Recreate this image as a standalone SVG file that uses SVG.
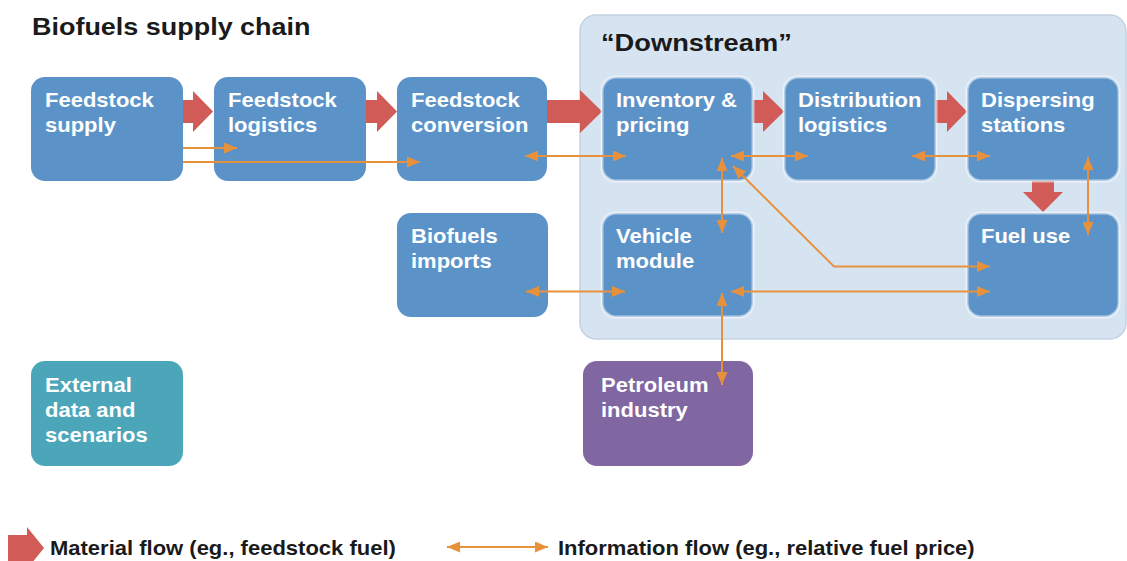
<svg xmlns="http://www.w3.org/2000/svg" width="1127" height="561" viewBox="0 0 1127 561">
<style>
  .box { fill: #5B93C8; }
  .inbox { fill: #5B93C8; stroke: #FFFFFF; stroke-opacity: 0.55; stroke-width: 3; }
  .lbl { font-family: "Liberation Sans", Arial, sans-serif; font-weight: bold; font-size: 20px; fill: #FFFFFF; }
  .dark { font-family: "Liberation Sans", Arial, sans-serif; font-weight: bold; fill: #1A1A1A; }
  .mat { fill: #D05B57; }
  .info { fill: none; stroke: #E8913D; stroke-width: 2; }
</style>
<defs>
  <marker id="ah" viewBox="0 0 13 11" markerWidth="13" markerHeight="11" refX="13" refY="5.5" orient="auto-start-reverse" markerUnits="userSpaceOnUse">
    <path d="M0,0 L13,5.5 L0,11 z" fill="#E8913D"/>
  </marker>
</defs>
<rect width="1127" height="561" fill="#FFFFFF"/>

<text class="dark" font-size="24.5" transform="translate(32 35) scale(1.1 1)">Biofuels supply chain</text>

<g id="downstream">
  <rect x="580" y="15" width="546" height="324" rx="16" fill="#D6E3F0" stroke="#C3D2E2" stroke-width="1.5"/>
  <text class="dark" font-size="23.5" transform="translate(601 51) scale(1.16 1)">“Downstream”</text>
</g>

<g id="material-flows">
  <path class="mat" d="M183,100 H193 V91 L213,111.5 L193,132 V123 H183 z"/>
  <path class="mat" d="M366,100 H377 V91 L397,111.5 L377,132 V123 H366 z"/>
  <path class="mat" d="M547,100 H580 V90 L602,111.5 L580,133 V123 H547 z"/>
  <path class="mat" d="M753,100 H763 V91 L784,111.5 L763,132 V123 H753 z"/>
  <path class="mat" d="M936,100 H947 V91 L967,111.5 L947,132 V123 H936 z"/>
  <path class="mat" d="M1032,181 H1054 V192 H1063 L1043,212 L1023,192 H1032 z"/>
</g>

<g id="feedstock-supply">
  <rect class="box" x="31" y="77" width="152" height="104" rx="14"/>
  <text class="lbl" transform="translate(45 106.7) scale(1.1 1)"><tspan x="0" y="0">Feedstock</tspan><tspan x="0" y="25">supply</tspan></text>
</g>
<g id="feedstock-logistics">
  <rect class="box" x="214" y="77" width="152" height="104" rx="14"/>
  <text class="lbl" transform="translate(228 106.7) scale(1.1 1)"><tspan x="0" y="0">Feedstock</tspan><tspan x="0" y="25">logistics</tspan></text>
</g>
<g id="feedstock-conversion">
  <rect class="box" x="397" y="77" width="150" height="104" rx="14"/>
  <text class="lbl" transform="translate(411 106.7) scale(1.1 1)"><tspan x="0" y="0">Feedstock</tspan><tspan x="0" y="25">conversion</tspan></text>
</g>
<g id="inventory-pricing">
  <rect class="inbox" x="602" y="77" width="151" height="104" rx="14"/>
  <text class="lbl" transform="translate(616 106.7) scale(1.1 1)"><tspan x="0" y="0">Inventory &amp;</tspan><tspan x="0" y="25">pricing</tspan></text>
</g>
<g id="distribution-logistics">
  <rect class="inbox" x="784" y="77" width="152" height="104" rx="14"/>
  <text class="lbl" transform="translate(798 106.7) scale(1.1 1)"><tspan x="0" y="0">Distribution</tspan><tspan x="0" y="25">logistics</tspan></text>
</g>
<g id="dispersing-stations">
  <rect class="inbox" x="967" y="77" width="152" height="104" rx="14"/>
  <text class="lbl" transform="translate(981 106.7) scale(1.1 1)"><tspan x="0" y="0">Dispersing</tspan><tspan x="0" y="25">stations</tspan></text>
</g>
<g id="biofuels-imports">
  <rect class="box" x="397" y="213" width="151" height="104" rx="14"/>
  <text class="lbl" transform="translate(411 242.7) scale(1.1 1)"><tspan x="0" y="0">Biofuels</tspan><tspan x="0" y="25">imports</tspan></text>
</g>
<g id="vehicle-module">
  <rect class="inbox" x="602" y="213" width="151" height="104" rx="14"/>
  <text class="lbl" transform="translate(616 242.7) scale(1.1 1)"><tspan x="0" y="0">Vehicle</tspan><tspan x="0" y="25">module</tspan></text>
</g>
<g id="fuel-use">
  <rect class="inbox" x="967" y="213" width="152" height="104" rx="14"/>
  <text class="lbl" transform="translate(981 242.7) scale(1.1 1)">Fuel use</text>
</g>
<g id="external-data">
  <rect x="31" y="361" width="152" height="105" rx="14" fill="#4BA6BA"/>
  <text class="lbl" transform="translate(45 391.7) scale(1.1 1)"><tspan x="0" y="0">External</tspan><tspan x="0" y="25">data and</tspan><tspan x="0" y="50">scenarios</tspan></text>
</g>
<g id="petroleum-industry">
  <rect x="583" y="361" width="170" height="105" rx="14" fill="#8067A1"/>
  <text class="lbl" transform="translate(601 391.7) scale(1.1 1)"><tspan x="0" y="0">Petroleum</tspan><tspan x="0" y="25">industry</tspan></text>
</g>

<g id="connectors">
  <line class="info" x1="183" y1="148" x2="237" y2="148" marker-end="url(#ah)"/>
  <line class="info" x1="183" y1="162" x2="420" y2="162" marker-end="url(#ah)"/>
  <line class="info" x1="525" y1="156" x2="626" y2="156" marker-start="url(#ah)" marker-end="url(#ah)"/>
  <line class="info" x1="731" y1="156" x2="808" y2="156" marker-start="url(#ah)" marker-end="url(#ah)"/>
  <line class="info" x1="912" y1="156" x2="990" y2="156" marker-start="url(#ah)" marker-end="url(#ah)"/>
  <line class="info" x1="1088" y1="157" x2="1088" y2="235" marker-start="url(#ah)" marker-end="url(#ah)"/>
  <polyline class="info" points="733,166 834,266.5 990,266.5" marker-start="url(#ah)" marker-end="url(#ah)"/>
  <line class="info" x1="722" y1="158" x2="722" y2="233" marker-start="url(#ah)" marker-end="url(#ah)"/>
  <line class="info" x1="526" y1="291.5" x2="625" y2="291.5" marker-start="url(#ah)" marker-end="url(#ah)"/>
  <line class="info" x1="731" y1="291.5" x2="990" y2="291.5" marker-start="url(#ah)" marker-end="url(#ah)"/>
  <line class="info" x1="722" y1="293" x2="722" y2="385" marker-start="url(#ah)" marker-end="url(#ah)"/>
</g>

<g id="legend">
  <path class="mat" d="M8,535 H27 V527 L44,548 L27,569 V561 H8 z"/>
  <text class="dark" font-size="20" transform="translate(50 555) scale(1.1 1)">Material flow (eg., feedstock fuel)</text>
  <line class="info" x1="447" y1="547" x2="548" y2="547" marker-start="url(#ah)" marker-end="url(#ah)"/>
  <text class="dark" font-size="20" transform="translate(558 555) scale(1.1 1)">Information flow (eg., relative fuel price)</text>
</g>
</svg>
